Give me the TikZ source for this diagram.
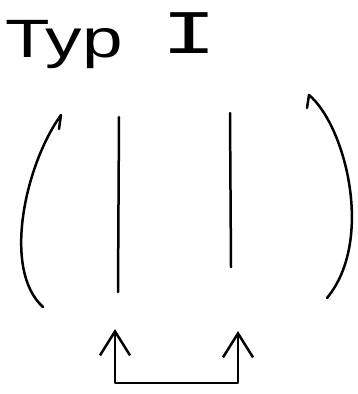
\documentclass[tikz,border=0pt]{standalone}
\usepackage{fontspec}
\newfontfamily\handsans{Liberation Sans}
\newfontfamily\handmono{Liberation Mono}
\usetikzlibrary{arrows.meta}
\tikzset{
  ink/.style={line width=2.5pt, line cap=round, line join=round, black},
  barb/.tip={Straight Barb[length=24pt,width=30pt,line width=2.5pt]},
}
\begin{document}
\begin{tikzpicture}[x=1pt,y=-1pt]
\useasboundingbox (0,0) rectangle (358,394);
% title
\node[anchor=base west, inner sep=0pt, font=\handsans\fontsize{54}{56}\selectfont, xscale=1.35, transform shape] (typ) at (5,57) {Typ};
\node[anchor=base, inner sep=0pt, font=\handmono\fontsize{62}{64}\selectfont, xscale=1.5, transform shape] (num) at (189,53) {I};
% left bracket
\coordinate (lb0) at (59,129);
\coordinate (lb1) at (61,115);
\coordinate (lb2) at (43,307);
\draw[ink] (lb0) -- (lb1) .. controls (25,165) and (2,270) .. (lb2);
% right bracket
\coordinate (rb0) at (307,108);
\coordinate (rb1) at (309,95);
\coordinate (rb2) at (327,298);
\draw[ink] (rb0) -- (rb1) .. controls (345,125) and (375,240) .. (rb2);
% vertical lines
\coordinate (v1t) at (119,117);
\coordinate (v1b) at (118,292);
\coordinate (v2t) at (230,113);
\coordinate (v2b) at (231,267);
\draw[ink] (v1t) -- (v1b);
\draw[ink] (v2t) -- (v2b);
% bottom arrows
\coordinate (a1) at (115,329);
\coordinate (a2) at (115,383);
\coordinate (a3) at (238,383);
\coordinate (a4) at (238,331);
\draw[ink, barb-barb] (a1) -- (a2) -- (a3) -- (a4);
\end{tikzpicture}
\end{document}
